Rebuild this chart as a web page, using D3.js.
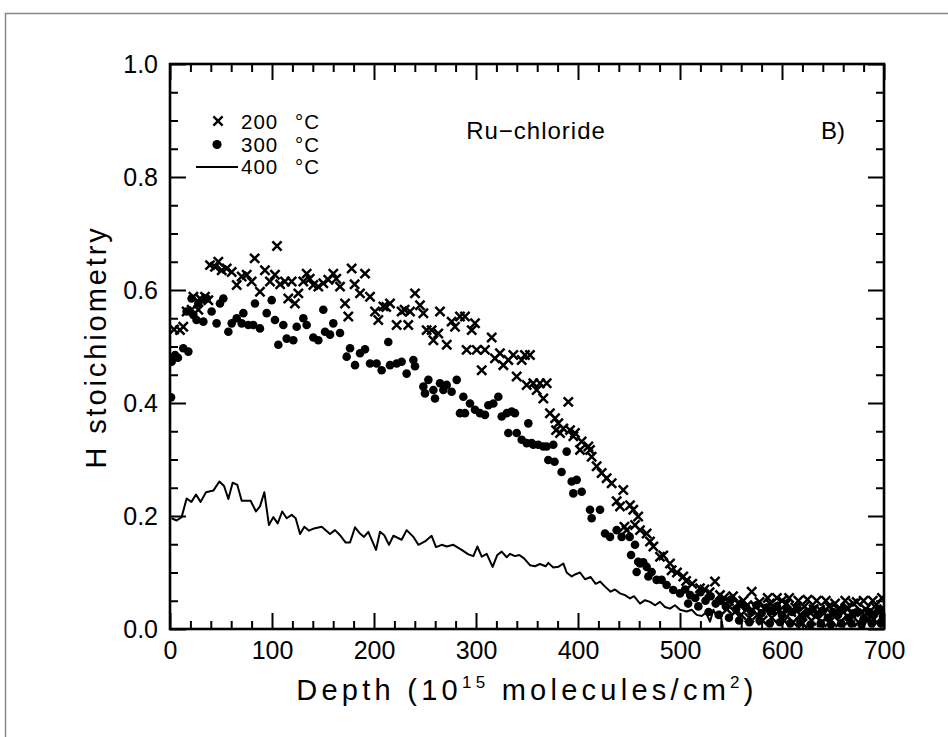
<!DOCTYPE html>
<html><head><meta charset="utf-8">
<script src="https://cdn.jsdelivr.net/npm/d3@7"></script>
<style>body{margin:0;background:#fff}svg{display:block}</style>
</head><body>
<svg id="c" width="948" height="737"></svg>
<script>
// ---- data ----
const xTicks = [0, 100, 200, 300, 400, 500, 600, 700];
const yTicks = [0.0, 0.2, 0.4, 0.6, 0.8, 1.0];
const legendLabels = ["200", "300", "400"];
const annotation = "Ru\u2212chloride";
const panelLabel = "B)";

// 200 °C (crosses): [depth, H stoichiometry]
const s200 = [[4,0.53],[9.8,0.529],[13,0.535],[16.3,0.562],[21.2,0.565],[22.9,0.588],[27.8,0.565],[29.4,0.585],[34.3,0.588],[37.6,0.582],[39.2,0.644],[44.1,0.641],[47.4,0.65],[50.7,0.635],[55.6,0.638],[60.5,0.632],[65.4,0.609],[70.3,0.624],[75.2,0.627],[80,0.615],[83,0.656],[88.2,0.597],[93.1,0.635],[98,0.615],[102.9,0.627],[104.9,0.678],[108,0.61],[112.7,0.615],[116,0.585],[119.3,0.615],[122.5,0.576],[125.8,0.594],[130.7,0.615],[134,0.629],[137,0.62],[140.5,0.609],[145.4,0.606],[150.3,0.612],[155.2,0.618],[160.1,0.629],[163,0.62],[166.7,0.606],[171.6,0.576],[174.8,0.553],[178.1,0.638],[181,0.61],[186.3,0.594],[191.2,0.629],[196.1,0.588],[201,0.562],[204.2,0.547],[209.2,0.571],[212,0.57],[215.7,0.576],[222.2,0.538],[227.1,0.562],[230,0.565],[233.6,0.538],[235.3,0.562],[240.2,0.594],[245.1,0.573],[248.4,0.559],[251.6,0.529],[256.5,0.529],[258.2,0.511],[263,0.523],[264.7,0.562],[271.3,0.503],[276.1,0.544],[279.4,0.535],[284.3,0.553],[289.2,0.553],[290.8,0.494],[295.8,0.529],[299,0.541],[300.7,0.494],[305.6,0.458],[308.8,0.494],[315.4,0.516],[318.6,0.479],[323.5,0.488],[326.8,0.467],[331.7,0.476],[336.6,0.485],[339.9,0.447],[344.8,0.476],[348,0.485],[349.7,0.432],[352.9,0.485],[356.2,0.435],[359.5,0.423],[362.7,0.435],[366,0.408],[369.3,0.435],[372.5,0.382],[377.5,0.373],[378.5,0.352],[380.7,0.364],[382.4,0.347],[385.6,0.355],[390.5,0.402],[392.2,0.352],[395.4,0.341],[397,0.347],[402,0.317],[403.6,0.332],[410.1,0.323],[411.8,0.317],[413.4,0.305],[418.3,0.288],[423.2,0.276],[428.1,0.267],[433,0.258],[437.9,0.226],[441.2,0.217],[444.4,0.246],[445.5,0.181],[447.7,0.175],[451,0.219],[454.2,0.211],[455.9,0.184],[459,0.199],[460.8,0.175],[467.3,0.169],[470.6,0.155],[473.9,0.146],[480.4,0.128],[483.6,0.13],[490.2,0.116],[491.8,0.104],[497,0.1],[503.2,0.093],[506,0.085],[512,0.08],[519.6,0.072],[524,0.07],[529,0.065],[534.3,0.084],[539.2,0.06],[543,0.055],[546,0.035],[548,0.05],[552,0.058],[554,0.03],[557,0.045],[560,0.025],[562,0.05],[566,0.042],[568,0.02],[570.3,0.066],[574,0.04],[576,0.025],[578,0.048],[581,0.015],[583,0.035],[586,0.055],[588,0.045],[590,0.02],[592,0.04],[595,0.055],[597,0.032],[600,0.05],[602,0.015],[604.6,0.045],[607,0.055],[609,0.03],[611,0.012],[613,0.038],[616,0.05],[618,0.025],[620,0.01],[622,0.04],[625,0.052],[627,0.03],[629,0.015],[631,0.035],[634,0.05],[637.3,0.034],[639,0.012],[641,0.028],[643,0.05],[646,0.04],[648,0.015],[650,0.025],[652,0.045],[655,0.035],[657,0.012],[660,0.03],[662,0.05],[664,0.038],[666,0.015],[668,0.028],[670,0.045],[673.2,0.048],[675,0.012],[678,0.03],[680,0.05],[682,0.035],[684,0.015],[687,0.025],[689,0.05],[691,0.04],[693,0.012],[696,0.03],[698,0.055],[700,0.035]];

// 300 °C (dots)
const s300 = [[1,0.41],[1.6,0.473],[3,0.48],[5,0.485],[7.8,0.48],[13,0.497],[16.3,0.562],[18,0.491],[21.2,0.585],[22.9,0.556],[26,0.547],[27.8,0.576],[32.7,0.544],[36,0.585],[40.8,0.562],[45.7,0.541],[49,0.576],[52.3,0.585],[57.2,0.526],[60.5,0.541],[65.4,0.55],[70.3,0.541],[71.9,0.559],[76.8,0.538],[81.7,0.538],[83.3,0.576],[88.2,0.532],[94.8,0.559],[99.7,0.582],[102.9,0.547],[106.2,0.503],[111.1,0.538],[114.4,0.514],[120.9,0.511],[124.2,0.535],[130.7,0.55],[134,0.538],[140.5,0.516],[145.4,0.511],[150.3,0.565],[152,0.526],[156.9,0.521],[160.1,0.541],[166.7,0.524],[173.2,0.482],[176.5,0.497],[181.4,0.467],[186.3,0.488],[191.2,0.495],[196.1,0.47],[202.6,0.47],[207.5,0.458],[214,0.508],[215.7,0.467],[222.2,0.47],[227.1,0.473],[232,0.452],[238.6,0.476],[240.2,0.465],[248.4,0.429],[250,0.417],[253.3,0.441],[258.2,0.423],[259.8,0.408],[264.7,0.435],[268,0.423],[271.3,0.432],[276.1,0.42],[281.1,0.441],[284.3,0.382],[287.6,0.411],[289.2,0.382],[294.1,0.399],[299,0.388],[303.9,0.382],[308.8,0.379],[312.1,0.396],[317,0.399],[321.9,0.411],[325.2,0.376],[330.1,0.382],[331.7,0.347],[335,0.385],[338.2,0.382],[339.9,0.347],[344.8,0.335],[349.7,0.329],[351.3,0.364],[354.6,0.329],[356.2,0.326],[361.1,0.326],[366,0.323],[369.3,0.323],[370.9,0.299],[375.8,0.326],[377,0.296],[383.9,0.278],[388.9,0.314],[393.8,0.261],[395.4,0.24],[398.7,0.264],[403.6,0.243],[411.8,0.211],[413.4,0.196],[421.6,0.211],[426.5,0.169],[431.4,0.163],[437.9,0.175],[442.8,0.163],[450.7,0.163],[452,0.131],[455.9,0.149],[457.5,0.101],[459,0.119],[460.8,0.116],[464,0.118],[467.3,0.11],[469,0.093],[472.2,0.101],[477.1,0.087],[482,0.087],[486.9,0.078],[493.4,0.069],[500,0.063],[505,0.07],[508,0.045],[510,0.06],[515,0.055],[518,0.04],[520,0.065],[525,0.05],[528,0.03],[530,0.058],[535,0.045],[538,0.025],[540,0.05],[545,0.04],[548,0.02],[550,0.052],[555,0.035],[558,0.015],[560,0.045],[565,0.038],[568,0.012],[570,0.03],[575,0.042],[578,0.015],[580,0.028],[585,0.038],[588,0.01],[590,0.032],[595,0.04],[598,0.012],[600,0.025],[605,0.035],[608,0.01],[610,0.03],[615,0.038],[618,0.012],[620,0.022],[625,0.03],[628,0.008],[630,0.035],[635,0.025],[638,0.01],[640,0.032],[645,0.02],[648,0.008],[650,0.03],[655,0.025],[658,0.01],[660,0.035],[665,0.02],[668,0.01],[670,0.028],[675,0.03],[678,0.008],[680,0.018],[685,0.03],[688,0.01],[690,0.025],[695,0.035],[697,0.01],[699,0.022]];

// 400 °C (line)
const s400 = [[1.6,0.196],[6.5,0.192],[11.4,0.198],[16.3,0.231],[21,0.225],[25.5,0.238],[30,0.225],[35.3,0.242],[42.5,0.245],[48.4,0.261],[53,0.253],[57.2,0.23],[61.4,0.259],[66,0.255],[70.3,0.227],[79,0.227],[84.3,0.208],[88.2,0.217],[92.5,0.242],[97,0.184],[101.3,0.198],[105.6,0.187],[110,0.208],[114.4,0.196],[119.3,0.202],[123.2,0.196],[127.5,0.168],[131.7,0.181],[136.3,0.174],[141.2,0.178],[148.7,0.181],[156.9,0.168],[161.8,0.175],[166.7,0.166],[172.2,0.153],[176.5,0.153],[181.4,0.18],[186.3,0.169],[190.2,0.163],[194.4,0.172],[202,0.14],[205.9,0.172],[210.1,0.166],[214.7,0.149],[219,0.165],[227.1,0.158],[232,0.175],[238.6,0.163],[243.5,0.149],[250,0.155],[256.5,0.165],[260.8,0.145],[266.4,0.149],[271.3,0.146],[277.8,0.149],[286,0.14],[292.5,0.132],[297.4,0.129],[301.3,0.146],[305.6,0.128],[310.5,0.133],[316.3,0.11],[320.9,0.131],[325.2,0.137],[330.1,0.127],[333.3,0.133],[338.2,0.129],[342.5,0.131],[347.1,0.125],[352.9,0.113],[357.8,0.111],[362.7,0.115],[368.3,0.111],[370.9,0.117],[375.8,0.109],[380.7,0.11],[385.6,0.116],[388.9,0.1],[393.8,0.093],[397.7,0.097],[402,0.1],[406.9,0.088],[412.4,0.092],[417.3,0.08],[421.6,0.084],[426.5,0.075],[432,0.066],[436.3,0.07],[441.2,0.063],[446,0.06],[451,0.054],[454.9,0.058],[460.8,0.045],[465.7,0.051],[470.6,0.048],[475.5,0.042],[480.4,0.048],[485.3,0.039],[490.2,0.036],[495.1,0.042],[500,0.034],[506.6,0.031],[511.4,0.034],[516.4,0.025],[521.3,0.023],[525.5,0.029],[529.4,0.013],[532.7,0.034],[536,0.022],[539.2,0.031],[542,0.002]];

// ---- drawing ----
const FONT = "'Liberation Sans', Arial, Helvetica, sans-serif";
const svg = d3.select("#c");
const m = {l:170, r:884, t:64, b:629};
const x = d3.scaleLinear().domain([0,700]).range([m.l, m.r]);
const y = d3.scaleLinear().domain([0,1]).range([m.b, m.t]);

// outer page border
svg.append("rect").attr("x",5.5).attr("y",13.5).attr("width",960).attr("height",760)
  .attr("fill","none").attr("stroke","#888").attr("stroke-width",1.5);

svg.append("defs").append("clipPath").attr("id","clip")
  .append("rect").attr("x",m.l).attr("y",m.t).attr("width",m.r-m.l).attr("height",m.b-m.t);

const plot = svg.append("g").attr("clip-path","url(#clip)");

// 400 line
plot.append("path").datum(s400)
  .attr("d", d3.line().x(d=>x(d[0])).y(d=>y(d[1])))
  .attr("fill","none").attr("stroke","#000").attr("stroke-width",2).attr("stroke-linejoin","round");

// 300 dots
plot.selectAll("circle.d300").data(s300).join("circle").attr("class","d300")
  .attr("cx",d=>x(d[0])).attr("cy",d=>y(d[1])).attr("r",4.3).attr("fill","#000");

// 200 crosses
const cs = 4.6;
plot.selectAll("path.x200").data(s200).join("path").attr("class","x200")
  .attr("d",d=>{const cx=x(d[0]), cy=y(d[1]);
     return `M${cx-cs},${cy-cs}L${cx+cs},${cy+cs}M${cx-cs},${cy+cs}L${cx+cs},${cy-cs}`;})
  .attr("stroke","#000").attr("stroke-width",2.5).attr("fill","none");

// axes (ticks inside, on all four sides)
const minorX = d3.range(0, 701, 20).filter(v=>v%100!==0);
const minorY = d3.range(0, 1.0001, 0.05).map(v=>+v.toFixed(2)).filter(v=>Math.abs(v*5-Math.round(v*5))>1e-6);
function styleAxis(g){ g.select(".domain").remove(); g.selectAll("line").attr("stroke","#000").attr("stroke-width",2); }
const MAJ=16, MIN=8;
const gb = svg.append("g").attr("transform",`translate(0,${m.b})`)
  .call(d3.axisBottom(x).tickValues(xTicks).tickSizeInner(-MAJ).tickSizeOuter(0).tickFormat(d3.format("d")));
styleAxis(gb);
gb.selectAll("text").attr("font-family",FONT).attr("font-size",25).attr("fill","#000").attr("dy","0.7em").attr("y",12);
svg.append("g").attr("transform",`translate(0,${m.b})`).call(d3.axisBottom(x).tickValues(minorX).tickSizeInner(-MIN).tickSizeOuter(0).tickFormat("")).call(styleAxis);
svg.append("g").attr("transform",`translate(0,${m.t})`).call(d3.axisTop(x).tickValues(xTicks).tickSizeInner(-MAJ).tickSizeOuter(0).tickFormat("")).call(styleAxis);
svg.append("g").attr("transform",`translate(0,${m.t})`).call(d3.axisTop(x).tickValues(minorX).tickSizeInner(-MIN).tickSizeOuter(0).tickFormat("")).call(styleAxis);

const gl = svg.append("g").attr("transform",`translate(${m.l},0)`)
  .call(d3.axisLeft(y).tickValues(yTicks).tickSizeInner(-MAJ).tickSizeOuter(0).tickFormat(d3.format(".1f")));
styleAxis(gl);
gl.selectAll("text").attr("font-family",FONT).attr("font-size",25).attr("fill","#000").attr("x",-12);
svg.append("g").attr("transform",`translate(${m.l},0)`).call(d3.axisLeft(y).tickValues(minorY).tickSizeInner(-MIN).tickSizeOuter(0).tickFormat("")).call(styleAxis);
svg.append("g").attr("transform",`translate(${m.r},0)`).call(d3.axisRight(y).tickValues(yTicks).tickSizeInner(-MAJ).tickSizeOuter(0).tickFormat("")).call(styleAxis);
svg.append("g").attr("transform",`translate(${m.r},0)`).call(d3.axisRight(y).tickValues(minorY).tickSizeInner(-MIN).tickSizeOuter(0).tickFormat("")).call(styleAxis);

// frame
svg.append("rect").attr("x",m.l).attr("y",m.t).attr("width",m.r-m.l).attr("height",m.b-m.t)
  .attr("fill","none").attr("stroke","#000").attr("stroke-width",2.6);

function fit(t, target){ const w=t.node().getComputedTextLength(); const n=t.text().length; t.attr("letter-spacing",Math.max(0,(target-w)/n).toFixed(2)); }

// axis titles
const xt = svg.append("text").attr("x",(m.l+m.r)/2).attr("y",700).attr("text-anchor","middle")
  .attr("font-family",FONT).attr("font-size",29).attr("fill","#000");
xt.append("tspan").text("Depth  (10");
xt.append("tspan").text("15").attr("font-size",17).attr("dy",-12);
xt.append("tspan").text("  molecules/cm").attr("dy",12);
xt.append("tspan").text("2").attr("font-size",17).attr("dy",-12);
xt.append("tspan").text(")").attr("dy",12);
fit(xt, 470);

const yt = svg.append("text").attr("transform","translate(106,347) rotate(-90)").attr("text-anchor","middle")
  .attr("font-family",FONT).attr("font-size",29).attr("fill","#000").text("H  stoichiometry");
fit(yt, 246);

// annotations
svg.append("text").attr("x",536).attr("y",139).attr("text-anchor","middle").attr("font-family",FONT)
  .attr("font-size",24).attr("fill","#000").attr("letter-spacing",1).text(annotation);
svg.append("text").attr("x",833).attr("y",139).attr("text-anchor","middle").attr("font-family",FONT)
  .attr("font-size",24).attr("fill","#000").text(panelLabel);

// legend
const lg = svg.append("g");
const rows = [121, 143.5, 166];
lg.append("path").attr("d",`M${218-cs},${rows[0]-cs}L${218+cs},${rows[0]+cs}M${218-cs},${rows[0]+cs}L${218+cs},${rows[0]-cs}`)
  .attr("stroke","#000").attr("stroke-width",2.4);
lg.append("circle").attr("cx",217).attr("cy",rows[1]+1).attr("r",4.6).attr("fill","#000");
lg.append("line").attr("x1",196).attr("x2",238).attr("y1",rows[2]+1).attr("y2",rows[2]+1).attr("stroke","#000").attr("stroke-width",1.8);
legendLabels.forEach((lab,i)=>{
  const t = lg.append("text").attr("x",241).attr("y",rows[i]+8).attr("font-family",FONT).attr("font-size",20.5).attr("fill","#000").attr("letter-spacing",1);
  t.append("tspan").text(lab);
  t.append("tspan").attr("x",295).text("\u00B0C");
});
</script>
</body></html>
